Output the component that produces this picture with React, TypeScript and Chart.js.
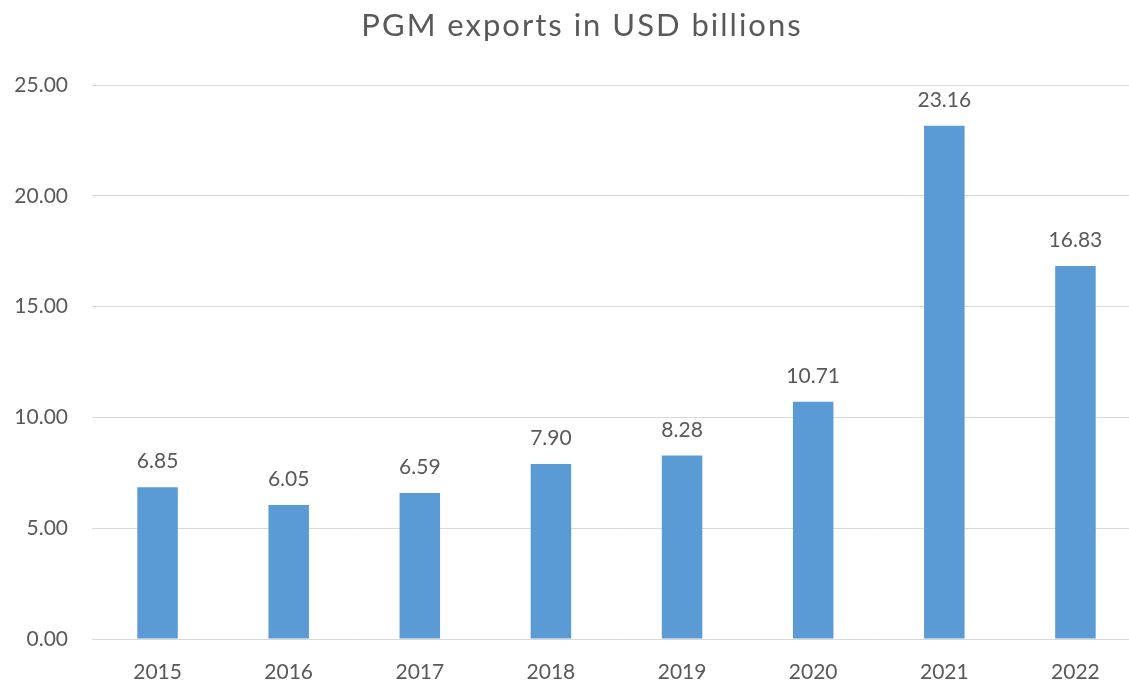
import React, { useEffect, useRef } from "react";
import { Chart, registerables } from "chart.js";

Chart.register(...registerables);

const categories = ["2015", "2016", "2017", "2018", "2019", "2020", "2021", "2022"];
const exportsUsdBn = [6.85, 6.05, 6.59, 7.9, 8.28, 10.71, 23.16, 16.83];
const yMin = 0;
const yMax = 25;
const yStep = 5;
const titleText = "PGM exports in USD billions";

const FONT = "Lato, 'Open Sans', sans-serif";
const TEXT = "#595959";

const dataLabelPlugin = {
  id: "dataLabels",
  afterDatasetsDraw(chart: any) {
    const ctx = chart.ctx;
    const meta = chart.getDatasetMeta(0);
    const ds = chart.data.datasets[0];
    ctx.save();
    ctx.font = `21px ${FONT}`;
    ctx.fillStyle = TEXT;
    ctx.textAlign = "center";
    ctx.textBaseline = "alphabetic";
    meta.data.forEach((bar: any, i: number) => {
      const v = ds.data[i] as number;
      ctx.fillText(v.toFixed(2), bar.x, bar.y - 19);
    });
    ctx.restore();
  },
};

const titlePlugin = {
  id: "customTitle",
  afterDraw(chart: any) {
    const ctx = chart.ctx;
    ctx.save();
    ctx.font = `31px ${FONT}`;
    ctx.fillStyle = TEXT;
    ctx.textAlign = "center";
    ctx.textBaseline = "alphabetic";
    try {
      (ctx as any).letterSpacing = "2px";
    } catch (e) {}
    ctx.fillText(titleText, 582, 36);
    ctx.restore();
  },
};

export default function App() {
  const ref = useRef<HTMLCanvasElement | null>(null);
  useEffect(() => {
    document.body.style.margin = "0";
    if (!ref.current) return;
    const chart = new Chart(ref.current, {
      type: "bar",
      data: {
        labels: categories,
        datasets: [
          {
            data: exportsUsdBn,
            backgroundColor: "#5B9BD5",
            categoryPercentage: 1,
            barPercentage: 0.309,
          },
        ],
      },
      options: {
        animation: false,
        responsive: false,
        layout: { padding: { left: 0, right: 0, top: 85, bottom: 0 } },
        plugins: {
          legend: { display: false },
          tooltip: { enabled: false },
          title: { display: false },
        },
        scales: {
          x: {
            grid: { display: false, drawTicks: false },
            border: { display: false },
            ticks: {
              color: TEXT,
              font: { family: FONT, size: 21 },
              padding: 21,
            },
            afterFit(scale: any) {
              scale.height = 44;
            },
          },
          y: {
            min: yMin,
            max: yMax,
            grid: { color: "#d9d9d9", lineWidth: 1, drawTicks: false },
            border: { display: false },
            ticks: {
              stepSize: yStep,
              color: TEXT,
              font: { family: FONT, size: 21 },
              padding: 24,
              callback: (v: any) => Number(v).toFixed(2),
            },
            afterFit(scale: any) {
              scale.width = 92;
            },
          },
        },
      },
      plugins: [dataLabelPlugin, titlePlugin],
    });
    return () => chart.destroy();
  }, []);
  return (
    <div style={{ width: 1129, height: 683, overflow: "hidden" }}>
      <canvas ref={ref} width={1141} height={683} style={{ display: "block" }} />
    </div>
  );
}
